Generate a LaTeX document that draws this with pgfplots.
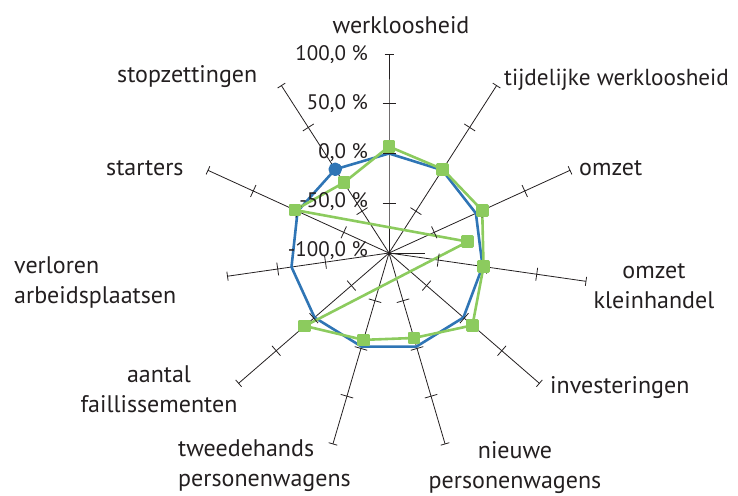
\documentclass[border=0pt]{standalone}
\usepackage{fontspec}
\setmainfont{PT Sans}
\usepackage{pgfplots}
\usepgfplotslibrary{polar}
\pgfplotsset{compat=1.18}
\definecolor{cblue}{HTML}{2F75B5}
\definecolor{cgreen}{HTML}{8CCB5E}
\definecolor{spoke}{HTML}{231F20}
\begin{document}
\begin{tikzpicture}[x=1pt,y=1pt]
\useasboundingbox (0,0) rectangle (738,495);
\begin{polaraxis}[
  at={(389pt,242pt)}, anchor=center,
  scale only axis, width=398pt, height=398pt,
  hide axis, clip=false,
  xmin=0, xmax=360,
  y coord trafo/.code={\pgfmathparse{#1+100}},
  y coord inv trafo/.code={\pgfmathparse{#1-100}},
  ymin=-100, ymax=100,
]
% spokes with tick marks (values -100 .. 100, centre = -100 %)
\pgfplotsinvokeforeach{90,57.2727,24.5455,351.8182,319.0909,286.3636,253.6364,220.9091,155.4545,122.7273}{
  \addplot[spoke, line width=0.8pt, mark=|, mark size=6.5pt,
    mark options={rotate=#1, solid}, mark indices={2,3,4}]
    coordinates {(#1,-100)(#1,-50)(#1,0)(#1,50)(#1,100)};
  \addplot[spoke, line width=0.8pt, only marks, mark=|, mark size=4.5pt,
    mark options={rotate=#1}]
    coordinates {(#1,100)};
}
% the shorter spoke of "verloren arbeidsplaatsen", as drawn in the original
\addplot[spoke, line width=0.8pt, mark=|, mark size=6.5pt,
  mark options={rotate=188.1818, solid}, mark indices={2,3}]
  coordinates {(188.1818,-100)(188.1818,-35.5)(188.1818,13)(188.1818,64)};
\addplot[spoke, line width=0.8pt, only marks, mark=|, mark size=4.5pt,
  mark options={rotate=188.1818}]
  coordinates {(188.1818,64)};
\addplot[spoke, line width=0.8pt] coordinates {(0,-100)(0,-64)};
% series 1 (blue)
\addplot[cblue, line width=2.6pt, line join=round, mark=*, mark size=5.5pt,
  mark indices={11}, mark options={solid, fill=cblue}]
  coordinates {(90,0)(57.2727,-1)(24.5455,-4)(351.8182,-5)(319.0909,-1)
    (286.3636,-2)(253.6364,-2)(220.9091,-1)(188.1818,-1)(155.4545,1)
    (122.7273,0)(90,0)};
% series 2 (green)
\addplot[cgreen, line width=2.6pt, line join=round, mark=square*, mark size=5pt,
  mark options={solid, fill=cgreen}, mark indices={1,...,11}]
  coordinates {(90,7)(57.2727,0)(24.5455,3)(351.8182,-4)(319.0909,11)
    (286.3636,-11)(253.6364,-9)(220.9091,12)(188.1818,-180)(155.4545,4)
    (122.7273,-16)(90,7)};
\end{polaraxis}
% radial tick labels
\begin{scope}[every node/.style={inner sep=0pt, font=\fontsize{21}{24}\selectfont, text=spoke}]
\node[anchor=east] at (368,440) {100,0 \%};
\node[anchor=east] at (368,391) {50,0 \%};
\node[anchor=east] at (368,342) {0,0 \%};
\node[anchor=east] at (368,293) {-50,0 \%};
\node[anchor=east] at (368,244) {-100,0 \%};
\end{scope}
% category labels
\begin{scope}[every node/.style={inner sep=0pt, font=\fontsize{24}{30}\selectfont, text=spoke}]
\node[anchor=center] at (401,470) {werkloosheid};
\node[anchor=west, font=\fontsize{23.2}{28}\selectfont] at (504,415) {tijdelijke werkloosheid};
\node[anchor=west] at (579,327) {omzet};
\node[anchor=center, align=center] at (654,209) {omzet\\kleinhandel};
\node[anchor=west] at (550,107) {investeringen};
\node[anchor=center, align=center] at (515,27) {nieuwe\\personenwagens};
\node[anchor=west, align=left] at (178,29) {tweedehands\\personenwagens};
\node[anchor=center, align=center] at (159,106) {aantal\\faillissementen};
\node[anchor=west, align=left] at (14,212) {verloren\\arbeidsplaatsen};
\node[anchor=west] at (106,327) {starters};
\node[anchor=west] at (117,418) {stopzettingen};
\end{scope}
\end{tikzpicture}
\end{document}
